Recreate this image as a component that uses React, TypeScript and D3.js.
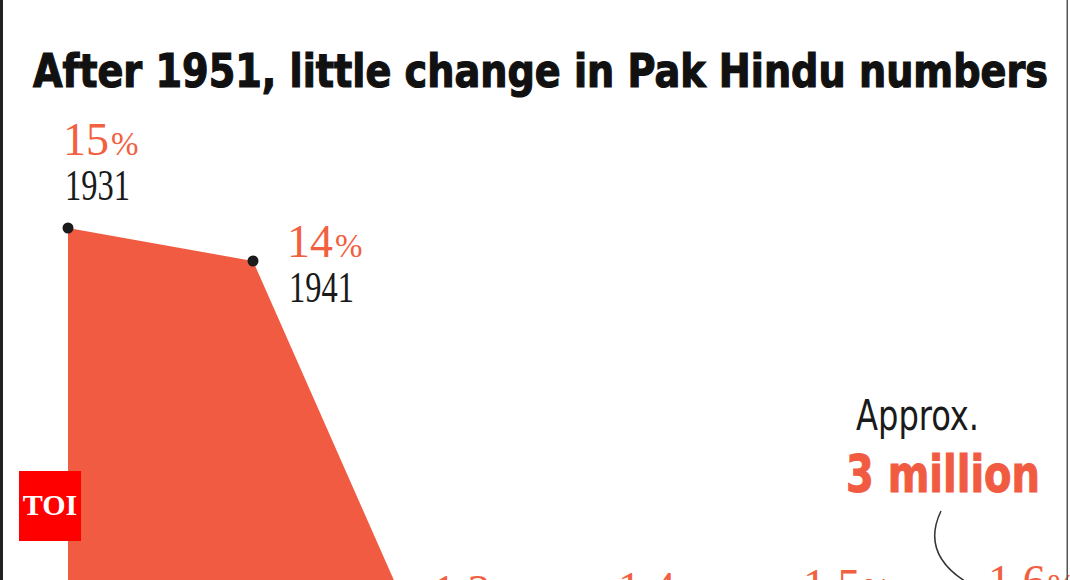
import React from "react";
import * as d3 from "d3";

// census years and Hindu share of population (%) in what became Pakistan
const years = ["1931", "1941", "1951", "1961", "1981", "1998"];
const hinduShare = [15, 14, 1.3, 1.4, 1.5, 1.6];
const shareLabels = ["15", "14", "1.3", "1.4", "1.5", "1.6"];

const title = "After 1951, little change in Pak Hindu numbers";
const noteSmall = "Approx.";
const noteBig = "3 million";

const W = 1070;
const H = 580;
const orange = "#f15b42";
const labelOrange = "#f2603f";
const serif = "'Liberation Serif', 'DejaVu Serif', serif";
const narrow = "'Liberation Sans Narrow', 'DejaVu Sans Condensed', 'Liberation Sans', sans-serif";

interface Pt {
    year: string;
    value: number;
}

const App: React.FC = () => {
    const data: Pt[] = years.map((year, i) => ({ year, value: hinduShare[i] }));

    const x = d3.scalePoint<string>().domain(years).range([68, 993]);
    const y = d3.scaleLinear().domain([0, 15]).range([723, 228]);

    const area = d3.area<Pt>()
        .x((d) => x(d.year)!)
        .y0(y(0))
        .y1((d) => y(d.value));

    // leader line from the "3 million" note towards the last census point
    const lastX = x(years[years.length - 1])!;
    const leader = d3.path();
    leader.moveTo(lastX - 52, 511);
    leader.bezierCurveTo(lastX - 66, 540, lastX - 58, 565, lastX - 20, 586);

    return (
        <svg width={W} height={H} style={{ position: "absolute", left: 0, top: 0, background: "#fff" }}>
            <rect width={W} height={H} fill="#fff" />

            <text x={33} y={87} fontFamily={narrow} fontWeight="bold" fontSize={47}
                  textLength={1015} lengthAdjust="spacingAndGlyphs"
                  fill="#111" stroke="#111" strokeWidth={1.2}>{title}</text>

            <path d={area(data) ?? ""} fill={orange} />

            {data.map((d, i) => (
                <circle key={"c" + d.year} cx={x(d.year)} cy={y(d.value)} r={5.5} fill="#1b1b1b" />
            ))}

            {data.map((d, i) => {
                const px = x(d.year)!;
                const py = y(d.value);
                // second point sits on the slope, so its labels go to the right
                const side = i === 1;
                const lx = side ? px + 34 : px - 5;
                const vy = side ? py - 4 : py - 73;
                const yy = side ? py + 41 : py - 28;
                return (
                    <g key={"l" + d.year}>
                        <text x={lx} y={vy} fontFamily={serif} fontSize={46} fill={labelOrange}>
                            {shareLabels[i]}
                            <tspan fontSize={33} dx={2}>%</tspan>
                        </text>
                        <text x={lx + 2} y={yy} fontFamily={serif} fontSize={44} fill="#1a1a1a"
                              textLength={65} lengthAdjust="spacingAndGlyphs">{d.year}</text>
                    </g>
                );
            })}

            <text x={lastX - 137} y={430} fontFamily={narrow} fontSize={42} fill="#1a1a1a"
                  textLength={123} lengthAdjust="spacingAndGlyphs">{noteSmall}</text>
            <text x={lastX - 147} y={492} fontFamily={narrow} fontWeight="bold" fontSize={51}
                  fill={orange} stroke={orange} strokeWidth={1}
                  textLength={194} lengthAdjust="spacingAndGlyphs">{noteBig}</text>
            <path d={leader.toString()} fill="none" stroke="#333" strokeWidth={1.5} />

            <rect x={19} y={471} width={62} height={70} fill="#ff0000" />
            <text x={50} y={515} textAnchor="middle" fontFamily={serif} fontWeight="bold"
                  fontSize={30} fill="#fff">TOI</text>

            <rect x={0} y={0} width={3} height={H} fill="#222" />
            <rect x={1066.5} y={0} width={1.5} height={H} fill="#555" />
        </svg>
    );
};

export default App;
